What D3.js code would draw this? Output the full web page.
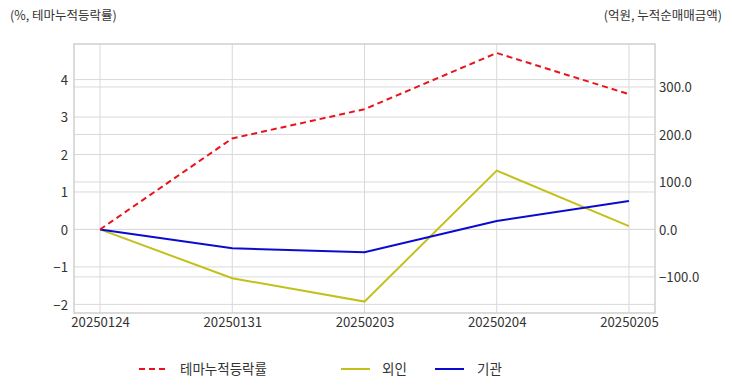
<!DOCTYPE html>
<html><head><meta charset="utf-8">
<script src="https://cdn.jsdelivr.net/npm/d3@7"></script>
<style>
body{margin:0;background:#fff;}
text{font-family:"Noto Sans CJK KR","Noto Sans",sans-serif;}
</style></head>
<body><svg id="c" width="732" height="392"></svg>
<script>
const dates = ["20250124","20250131","20250203","20250204","20250205"];
const themeReturn = [0, 2.43, 3.21, 4.71, 3.61];
const foreign = [0, -102.7, -152, 123.8, 7];
const institution = [0, -39.6, -48, 17.9, 60];
const leftTicks = [-2,-1,0,1,2,3,4];
const rightTicks = [-100,0,100,200,300];
const seriesNames = ["테마누적등락률","외인","기관"];

const svg = d3.select("#c");
const L=74, R=655, T=44, B=313;
const x = d3.scalePoint().domain(dates).range([L,R]).padding(0.197);
const yL = d3.scaleLinear().domain([-2.23,4.95]).range([B,T]);
const yR = d3.scaleLinear().domain([-176,390.5]).range([B,T]);

const g = svg.append("g");
g.selectAll(".gl").data(leftTicks).join("line")
 .attr("x1",L).attr("x2",R).attr("y1",d=>yL(d)).attr("y2",d=>yL(d))
 .attr("stroke","#d9d9d9").attr("stroke-width",1);
g.selectAll(".gr").data(rightTicks).join("line")
 .attr("x1",L).attr("x2",R).attr("y1",d=>yR(d)).attr("y2",d=>yR(d))
 .attr("stroke","#d9d9d9").attr("stroke-width",1);
g.selectAll(".gv").data(dates).join("line")
 .attr("x1",d=>x(d)).attr("x2",d=>x(d)).attr("y1",T).attr("y2",B)
 .attr("stroke","#d9d9d9").attr("stroke-width",1);
g.append("rect").attr("x",L).attr("y",T).attr("width",R-L).attr("height",B-T)
 .attr("fill","none").attr("stroke","#cfcfcf").attr("stroke-width",1.5);

const axL = svg.append("g").attr("transform",`translate(${L},0)`)
 .call(d3.axisLeft(yL).tickValues(leftTicks).tickSize(0).tickPadding(6).tickFormat(d3.format("d")));
const axR = svg.append("g").attr("transform",`translate(${R},0)`)
 .call(d3.axisRight(yR).tickValues(rightTicks).tickSize(0).tickPadding(4).tickFormat(d3.format(".1f")));
const axB = svg.append("g").attr("transform",`translate(0,${B})`)
 .call(d3.axisBottom(x).tickSize(0).tickPadding(5));
[axL,axR,axB].forEach(a=>{a.select(".domain").remove();
 a.selectAll("text").attr("fill","#333").style("font-size","13.2px").style("font-family",'"Noto Sans CJK KR",sans-serif');});
axL.selectAll("text").attr("dy","0.35em");
axR.selectAll("text").attr("dy","0.35em");

const lineL = d3.line().x((d,i)=>x(dates[i])).y(d=>yL(d));
const lineR = d3.line().x((d,i)=>x(dates[i])).y(d=>yR(d));
const colors = ["#e8141c","#c3c01c","#0b0bd0"];
svg.append("path").datum(foreign).attr("d",lineR).attr("fill","none")
 .attr("stroke",colors[1]).attr("stroke-width",2);
svg.append("path").datum(institution).attr("d",lineR).attr("fill","none")
 .attr("stroke",colors[2]).attr("stroke-width",2);
svg.append("path").datum(themeReturn).attr("d",lineL).attr("fill","none")
 .attr("stroke",colors[0]).attr("stroke-width",2).attr("stroke-dasharray","6,4");

svg.append("text").attr("x",10).attr("y",20).text("(%, 테마누적등락률)")
 .attr("fill","#333").style("font-size","12.5px");
svg.append("text").attr("x",722).attr("y",20).attr("text-anchor","end").text("(억원, 누적순매매금액)")
 .attr("fill","#333").style("font-size","12.5px");

const leg = [{x:139,tx:180},{x:341,tx:382},{x:435,tx:477}];
leg.forEach((p,i)=>{
 svg.append("line").attr("x1",p.x).attr("x2",p.x+29).attr("y1",369).attr("y2",369)
  .attr("stroke",colors[i]).attr("stroke-width",2)
  .attr("stroke-dasharray", i===0?"6,4":null);
 svg.append("text").attr("x",p.tx).attr("y",369).attr("dy","0.35em").text(seriesNames[i])
  .attr("fill","#333").style("font-size","13.5px");
});
</script></body></html>
